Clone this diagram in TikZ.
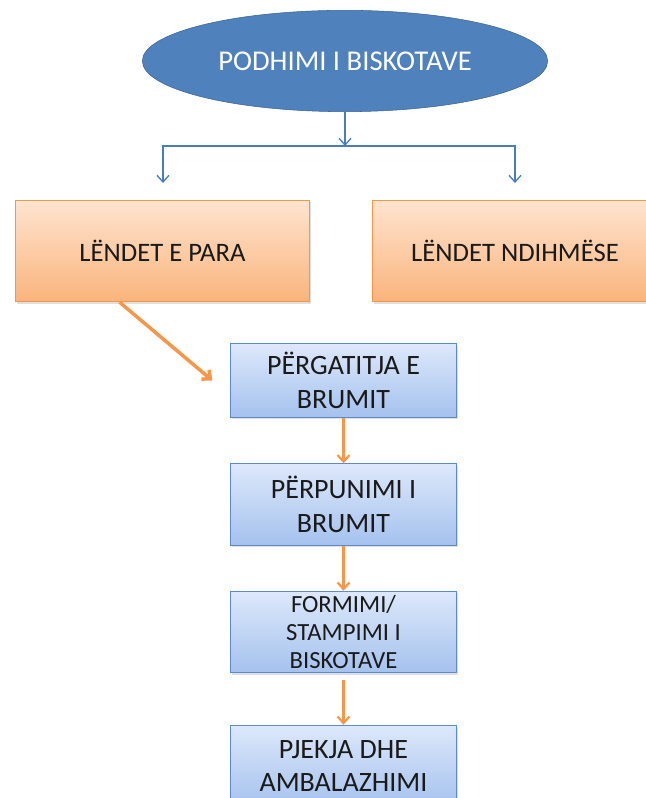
\documentclass[tikz,border=0pt]{standalone}
\usepackage{fontspec}
\setmainfont{Carlito}
\usetikzlibrary{shapes.geometric,shadows,arrows.meta}

\definecolor{hdrblue}{HTML}{4F81BD}
\definecolor{hdrline}{HTML}{3A6496}
\definecolor{lineblue}{HTML}{4A7EBB}
\definecolor{orline}{HTML}{F79646}
\definecolor{ortop}{HTML}{FFE4D0}
\definecolor{orbot}{HTML}{F9B47C}
\definecolor{bltop}{HTML}{DDE8FA}
\definecolor{blbot}{HTML}{A5C2EE}
\definecolor{blline}{HTML}{5B8BCB}
\definecolor{ink}{HTML}{1A1A1A}

\tikzstyle{title} = [
        ellipse,
        draw=hdrline,
        fill=hdrblue,
        text=white,
        minimum width=304pt,
        minimum height=76pt,
        font=\fontsize{21.5}{24}\selectfont
    ]
\tikzstyle{source} = [
        draw=orline,
        thick,
        rectangle,
        top color=ortop,
        bottom color=orbot,
        text=ink,
        minimum height=76pt,
        font=\fontsize{20}{24}\selectfont,
        drop shadow={opacity=0.25, shadow xshift=1pt, shadow yshift=-1.5pt}
    ]
\tikzstyle{stepbox} = [
        draw=blline,
        thick,
        rectangle,
        top color=bltop,
        bottom color=blbot,
        text=ink,
        align=center,
        minimum width=170pt,
        minimum height=61pt,
        inner sep=2pt,
        font=\fontsize{21}{25}\selectfont,
        drop shadow={opacity=0.25, shadow xshift=1pt, shadow yshift=-1.5pt}
    ]

\begin{document}
\begin{tikzpicture}[x=0.75pt, y=0.75pt, node distance=93pt,
        >={Straight Barb[length=5pt, width=9pt]}]
        \useasboundingbox (0,0) rectangle (645,798);
        \node(head) [title] at (345,737) {PODHIMI I BISKOTAVE};
        \node(lndp) [source, minimum width=221pt] at (162.5,547) {LËNDET E PARA};
        \node(lndn) [source, minimum width=214pt] at (515,547) {LËNDET NDIHMËSE};
        \coordinate (split) at (345,652);
        \coordinate (dropl) at (163,615);
        \coordinate (dropr) at (515,615);
        \draw[->, lineblue, line width=1pt] (head) -- (split);
        \draw[->, lineblue, line width=1pt] (split) -| (dropl);
        \draw[->, lineblue, line width=1pt] (split) -| (dropr);
        % steps
        \node(prep) [stepbox, minimum height=55pt] at (343.5,417.5) {PËRGATITJA E\\BRUMIT};
        \node(proc) [stepbox, below of=prep] {PËRPUNIMI I\\BRUMIT};
        \node(form) [stepbox, below of=proc, yshift=-2.6pt,
            font=\fontsize{18.5}{21}\selectfont] {FORMIMI/\\STAMPIMI I\\BISKOTAVE};
        \node(bake) [stepbox, below of=form, yshift=-7.5pt] {PJEKJA DHE\\AMBALAZHIMI};
        \coordinate (feed) at ([xshift=-13pt]prep.west);
        \draw[->, orline, line width=2.6pt] (lndp.230) -- (feed);
        \draw[->, orline, line width=1.6pt] (prep) -- (proc);
        \draw[->, orline, line width=1.6pt] (proc) -- (form);
        \draw[->, orline, line width=1.6pt, shorten <=5pt] (form) -- (bake);
    \end{tikzpicture}
\end{document}
